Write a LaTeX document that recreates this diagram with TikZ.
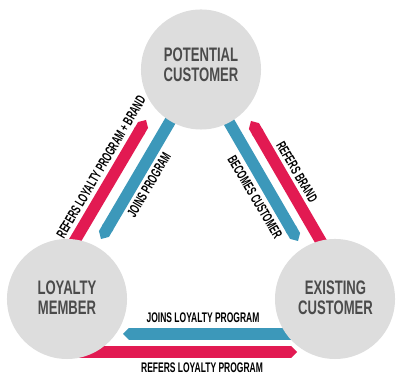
\documentclass[tikz,border=0pt]{standalone}
\usepackage{fontspec}
\newfontfamily\circfont[FakeStretch=0.67]{Liberation Sans}
\newfontfamily\bandfont[FakeStretch=0.61]{Liberation Sans}
\definecolor{lpred}{RGB}{226,26,82}
\definecolor{lpblue}{RGB}{60,152,186}
\definecolor{lpgray}{RGB}{221,221,221}
\definecolor{lptext}{RGB}{75,75,75}
\usetikzlibrary{arrows.meta,positioning}

\begin{document}
\begin{tikzpicture}[x=0.025cm,y=0.025cm,
  stagecircle/.style={circle,fill=lpgray,minimum size=3.0cm,inner sep=0pt},
  stagetext/.style={align=center,inner sep=0pt,text=lptext,
    font=\circfont\bfseries\fontsize{13.9}{14.2}\selectfont},
  flowband/.style={line width=0.29cm,-{Triangle Cap}},
  flowlabel/.style={inner sep=0pt,font=\bandfont\bfseries\fontsize{9.9}{10}\selectfont}
]
  \useasboundingbox (0,0) rectangle (400,385);

  % Band end points
  \coordinate (redL1) at (54.6,110);  \coordinate (redL2) at (146,265);
  \coordinate (blueL1) at (182,284);  \coordinate (blueL2) at (101,146);
  \coordinate (blueR1) at (217.7,282.4); \coordinate (blueR2) at (298,144);
  \coordinate (redR1) at (341.4,108.3); \coordinate (redR2) at (251,264);
  \coordinate (blueB1) at (335,51);   \coordinate (blueB2) at (123,51);
  \coordinate (redB1) at (67,33);     \coordinate (redB2) at (297,33);

  % Bands (under the circles)
  \draw[flowband,lpred] (redL1) -- (redL2);
  \draw[flowband,lpblue] (blueL1) -- (blueL2);
  \draw[flowband,lpblue] (blueR1) -- (blueR2);
  \draw[flowband,lpred] (redR1) -- (redR2);
  \draw[flowband,lpblue] (blueB1) -- (blueB2);
  \draw[flowband,lpred] (redB1) -- (redB2);

  % Circles
  \node[stagecircle] (potential) at (201,315.5) {};
  \node[stagecircle] (loyal) at (67,86) {};
  \node[stagecircle] (existing) at (335,86) {};
  \node[stagetext] (potentialtxt) at (201,320) {POTENTIAL\\CUSTOMER};
  \node[stagetext] (loyaltxt) at (67,87.5) {LOYALTY\\MEMBER};
  \node[stagetext] (existingtxt) at (335.5,87) {EXISTING\\CUSTOMER};

  % Labels
  \node[flowlabel,rotate=59.5] (lbreferlp) at (101,218) {REFERS LOYALTY PROGRAM + BRAND};
  \node[flowlabel,rotate=59.5] (lbjoinp) at (149,200) {JOINS PROGRAM};
  \node[flowlabel,rotate=-59.5] (lbreferb) at (297,213) {REFERS BRAND};
  \node[flowlabel,rotate=-59.5] (lbbecome) at (255,188) {BECOMES CUSTOMER};
  \node[flowlabel] (lbjoinlp) at (203,67) {JOINS LOYALTY PROGRAM};
  \node[flowlabel] (lbreferlpb) at (202,17) {REFERS LOYALTY PROGRAM};
\end{tikzpicture}
\end{document}
